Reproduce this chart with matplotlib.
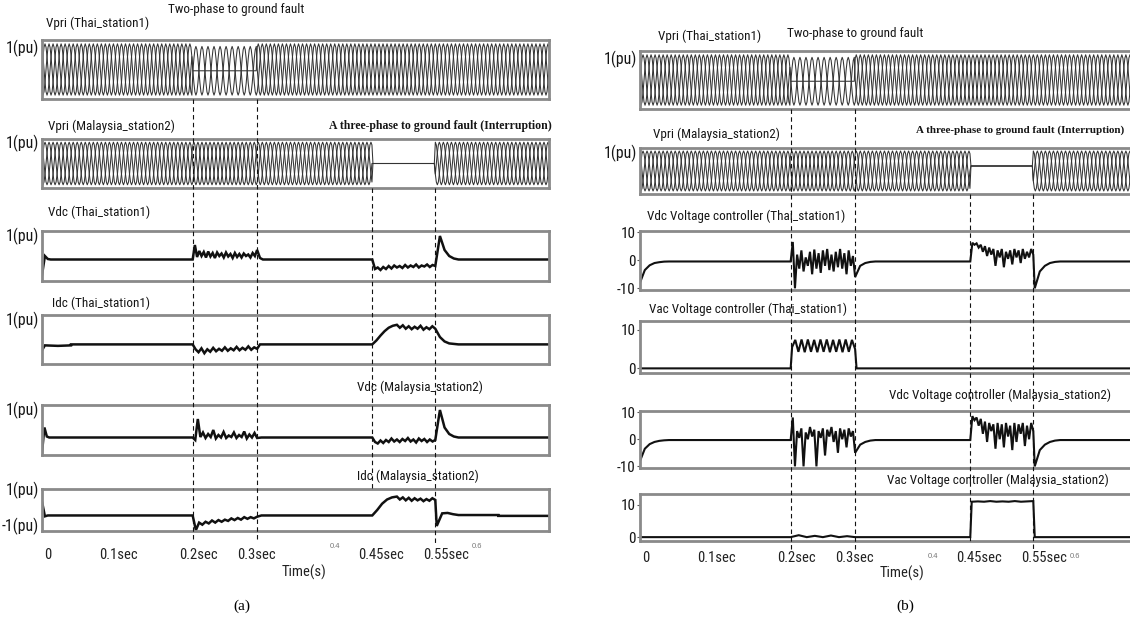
import os
import numpy as np
import matplotlib.pyplot as plt
from matplotlib import font_manager
from matplotlib.font_manager import FontProperties
from matplotlib.lines import Line2D

W, H = 1130, 619

# fault instants
fault_times = [0.208, 0.297, 0.456, 0.543]
t1, t2, t3, t4 = fault_times
t_end = 0.7

tick_pos = [0.008, 0.106, 0.216, 0.296, 0.468, 0.558]
tick_text = ['0', '0.1sec', '0.2sec', '0.3sec', '0.45sec', '0.55sec']
minor_pos = [0.404, 0.6]
minor_text = ['0.4', '0.6']

# one 60 Hz cycle of the primary voltage (12 samples)
cycle_shape = [0.0, 0.5, 0.87, 1.0, 0.87, 0.5, 0.0, -0.5, -0.87, -1.0, -0.87, -0.5]
cycle_period = 1 / 60

# primary voltages: segment starts, per-phase gains, per-phase shifts, flat offset
vpri_thai_starts = [0.0, t1, t2]
vpri_thai_gains = [[1, 1, 1], [0.95, 0.0, 0.95], [1, 1, 1]]
vpri_thai_shifts = [[0, 4, 8], [0, 4, 6], [0, 4, 8]]
vpri_thai_offset = [0, -0.05, 0]
vpri_mal_starts = [0.0, t3, t4]
vpri_mal_gains = [[1, 1, 1], [0, 0, 0], [1, 1, 1]]
vpri_mal_shifts = [[0, 4, 8], [0, 4, 8], [0, 4, 8]]
vpri_mal_offset_a = [0, 0, 0]
vpri_mal_offset_b = [0, 0.25, 0]

# (a) dc traces in box fraction, pieces of (t0, t1, values)
vdc_thai = [
    (0.0, 0.012, [0.12, 0.5, 0.44, 0.43]),
    (0.012, t1, [0.43, 0.43]),
    (t1, t2, [0.43, 0.72, 0.48, 0.6, 0.5, 0.58, 0.47, 0.59, 0.49, 0.56, 0.46, 0.57, 0.5, 0.55,
              0.47, 0.57, 0.49, 0.54, 0.46, 0.56, 0.48, 0.54, 0.47, 0.55, 0.5, 0.53, 0.47, 0.56, 0.5, 0.62]),
    (t2, 0.305, [0.62, 0.46, 0.43]),
    (0.305, t3, [0.43, 0.43]),
    (t3, t4, [0.43, 0.24, 0.27, 0.22, 0.28, 0.24, 0.3, 0.25, 0.31, 0.27, 0.3, 0.26, 0.32, 0.27,
              0.31, 0.28, 0.33, 0.27, 0.31, 0.29, 0.33, 0.28, 0.32, 0.3]),
    (t4, 0.575, [0.3, 0.9, 0.62, 0.5, 0.45, 0.43]),
    (0.575, t_end, [0.43, 0.43]),
]
idc_thai = [
    (0.0, 0.004, [0.28, 0.38]),
    (0.004, 0.04, [0.38, 0.37, 0.38]),
    (0.04, t1, [0.4, 0.4]),
    (t1, t2, [0.4, 0.3, 0.24, 0.32, 0.22, 0.3, 0.25, 0.33, 0.26, 0.31, 0.27, 0.34, 0.27, 0.32,
              0.28, 0.35, 0.28, 0.33, 0.29, 0.36, 0.29, 0.34, 0.31]),
    (t2, 0.301, [0.31, 0.4]),
    (0.301, t3, [0.4, 0.4]),
    (t3, 0.49, [0.4, 0.48, 0.58, 0.67, 0.74, 0.78, 0.8]),
    (0.49, t4, [0.8, 0.74, 0.79, 0.72, 0.77, 0.71, 0.76, 0.72, 0.78, 0.7, 0.75, 0.71, 0.77, 0.72]),
    (t4, 0.575, [0.72, 0.55, 0.46, 0.42, 0.41, 0.4]),
    (0.575, t_end, [0.4, 0.4]),
]
vdc_mal = [
    (0.0, 0.01, [0.05, 0.55, 0.37, 0.35]),
    (0.01, t1, [0.35, 0.35]),
    (t1, t2, [0.35, 0.3, 0.72, 0.36, 0.45, 0.34, 0.42, 0.36, 0.5, 0.33, 0.4, 0.35, 0.46, 0.34,
              0.39, 0.36, 0.45, 0.34, 0.4, 0.36, 0.47, 0.33, 0.41, 0.35, 0.44, 0.34]),
    (t2, 0.303, [0.34, 0.35]),
    (0.303, t3, [0.35, 0.35]),
    (t3, t4, [0.35, 0.26, 0.23, 0.29, 0.24, 0.3, 0.26, 0.33, 0.27, 0.31, 0.26, 0.32, 0.28, 0.34,
              0.27, 0.31, 0.25, 0.33, 0.28, 0.32, 0.26, 0.31, 0.27, 0.3]),
    (t4, 0.575, [0.3, 0.9, 0.55, 0.42, 0.37, 0.35]),
    (0.575, t_end, [0.35, 0.35]),
]
idc_mal = [
    (0.0, 0.008, [0.7, 0.35, 0.37]),
    (0.008, t1, [0.37, 0.37]),
    (t1, t2, [0.37, 0.02, 0.2, 0.15, 0.22, 0.18, 0.25, 0.2, 0.26, 0.22, 0.27, 0.24, 0.3, 0.26,
              0.31, 0.27, 0.33, 0.29, 0.33, 0.3, 0.34]),
    (t2, 0.303, [0.34, 0.37]),
    (0.303, t3, [0.37, 0.37]),
    (t3, 0.49, [0.37, 0.5, 0.65, 0.75, 0.8, 0.82]),
    (0.49, t4, [0.82, 0.75, 0.8, 0.73, 0.79, 0.72, 0.78, 0.73, 0.77, 0.71, 0.76, 0.72, 0.78, 0.74]),
    (t4, 0.545, [0.74, 0.12]),
    (0.545, 0.575, [0.12, 0.42, 0.43, 0.4, 0.38]),
    (0.575, 0.63, [0.38, 0.38]),
    (0.63, t_end, [0.36, 0.36]),
]

# (b) controller outputs
vdc_ctrl_thai = [
    (0.0, 0.0, [10, -8]),
    (0.0, 0.04, [-8, -3.5, -1.8, -1.0, -0.7, -0.5, -0.45]),
    (0.04, t1, [-0.45, -0.45]),
    (t1, t2, [-0.45, 6.5, -10, 2, -3, 3.5, -4, 1, -2, 3, -5, 3.8, -3, 2.5, -4.5, 3.5, -2, 4,
              -3.5, 2, -4, 3, -2.5, 4, -3, 2.5, -5, 3.5, -2, 1.5, -6]),
    (t2, 0.325, [-6, -2, -1, -0.6, -0.45]),
    (0.325, t3, [-0.45, -0.45]),
    (t3, t4, [-0.45, 6.2, 5.5, 6, 4.5, 5.5, 3, 5, 1.5, 4.5, 2, 4, -2, 3.5, 1, 4, -2.5, 3, 0.5,
              3.5, -1.5, 4, 1, 3.5, -1, 4, 0.5, 3, 1, 4, 2]),
    (t4, 0.545, [2, -10]),
    (0.545, 0.58, [-10, -4, -2, -1, -0.6, -0.45]),
    (0.58, t_end, [-0.45, -0.45]),
]
vac_ctrl_thai = [
    (0.0, t1, [0, 0]),
    (t1, 0.21, [0, 5.5]),
    (0.21, t2, [5.5, 7.4, 4.3, 7.5, 4.2, 7.5, 4.3, 7.4, 4.2, 7.5, 4.3, 7.5, 4.2, 7.4, 4.3,
                7.5, 4.2, 7.5, 4.3, 7.4, 5.0]),
    (t2, 0.299, [5.0, 0]),
    (0.299, t_end, [0, 0]),
]
vdc_ctrl_mal = [
    (0.0, 0.0, [10, -8]),
    (0.0, 0.04, [-8, -3.5, -1.8, -1.0, -0.6, -0.4, -0.3]),
    (0.04, t1, [-0.3, -0.3]),
    (t1, t2, [-0.3, 8, -10, 3, 0.5, 4, -10, 2.5, 0, 4.5, 1, 3.5, -10, 3, 0.5, 4, -6, 3.5, 1,
              4.5, -1, 3, -5, 4, 0, 3.5, -3, 4, 1, 3, -5]),
    (t2, 0.325, [-5, -2, -1, -0.5, -0.3]),
    (0.325, t3, [-0.3, -0.3]),
    (t3, t4, [-0.3, 8.5, 7, 8, 5, 7.5, 2, 6.5, -1, 6, 3, 5.5, -3.5, 6, 0, 5.5, -3, 6, 1, 5,
              -4, 6, -1, 5.5, 2, 6, -2.5, 5, 0, 6, 3]),
    (t4, 0.545, [3, -10]),
    (0.545, 0.58, [-10, -4, -2, -1, -0.5, -0.3]),
    (0.58, t_end, [-0.3, -0.3]),
]
vac_ctrl_mal = [
    (0.0, t1, [0, 0]),
    (t1, t2, [0, 0.6, 0, 0.4, 0, 0.5, 0, 0.3, 0]),
    (t2, t3, [0, 0]),
    (t3, 0.458, [0, 11]),
    (0.458, t4, [11, 11.1, 11, 11.2, 11, 11.1, 11, 11.2, 11, 11.1, 11.2]),
    (t4, 0.545, [11.2, 0]),
    (0.545, t_end, [0, 0]),
]


def trace(pieces):
    ts, ys = [], []
    for a, b, vals in pieces:
        ts.extend(np.linspace(a, b, len(vals)))
        ys.extend(vals)
    return np.array(ts), np.array(ys)


def three_phase(starts, gains, shifts, offsets):
    n_cyc = int(round(t_end / cycle_period)) + 1
    base = np.tile(cycle_shape, n_cyc)
    t = np.arange(base.size) * cycle_period / len(cycle_shape)
    seg = np.searchsorted(starts, t, side='right') - 1
    out = []
    for k in range(3):
        sh = np.array([s[k] for s in shifts])[seg]
        g = np.array([gg[k] for gg in gains])[seg]
        idx = (np.arange(base.size) + sh) % base.size
        out.append(base[idx] * g + np.array(offsets)[seg])
    return t, out


# narrow sans face for the labels (the original uses an Arial Narrow look)
def pick_narrow():
    files = [f.fname for f in font_manager.fontManager.ttflist]
    prefs = ['LiberationSansNarrow-Regular', 'RobotoCondensed-Regular', 'NotoSans-CondensedRegular',
             'NotoSans-Condensed.', 'OpenSans-CondensedRegular', 'OpenSans_Condensed-Regular',
             'DejaVuSansCondensed.']
    for p in prefs:
        for fn in files:
            if p in os.path.basename(fn):
                return fn
    for fn in files:
        b = os.path.basename(fn)
        if ('Condensed' in b or 'Narrow' in b) and not any(
                k in b for k in ('Bold', 'Italic', 'Oblique', 'Light', 'Thin', 'Black',
                                 'Medium', 'Semi', 'Extra', 'Mono', 'Serif')):
            return fn
    return None


NARROW = pick_narrow()
plt.rcParams['font.family'] = ['Liberation Sans', 'DejaVu Sans']

fig = plt.figure(figsize=(W / 100, H / 100), dpi=100)
renderer = fig.canvas.get_renderer()


def fprop(size):
    if NARROW:
        return FontProperties(fname=NARROW, size=size)
    return FontProperties(family='Liberation Sans', size=size)


SERIF_A = FontProperties(family='Liberation Serif', weight='bold', size=8.5)
SERIF_B = FontProperties(family='Liberation Serif', weight='bold', size=7.9)

# scale the label size so a known label has the width it has in the original
_probe = fig.text(0, 0, 'Vdc Voltage controller (Malaysia_station2)', fontproperties=fprop(10))
SIZE = 10 * 219 / _probe.get_window_extent(renderer).width
_probe.remove()

BOX_W = 507


def make_axes(x0, top, bottom):
    ax = fig.add_axes([x0 / W, 1 - bottom / H, BOX_W / W, (bottom - top) / H])
    ax.set_xlim(0, t_end)
    for s in ax.spines.values():
        s.set_color('#8a8a8a')
        s.set_linewidth(2)
    ax.set_xticks([])
    ax.set_yticks([])
    return ax


def label(x, y, s, fp=None):
    fig.text(x / W, 1 - y / H, s, fontproperties=fp or fprop(SIZE), color='#151515', va='center')


def pu_label(ax, s, yfrac):
    ax.text(-0.006, yfrac, s, transform=ax.transAxes, ha='right', va='center',
            fontproperties=fprop(SIZE * 1.2), color='#151515')


def draw_vpri(ax, data):
    t, phases = data
    for p in phases:
        ax.plot(t, p, color='#333333', lw=0.75)
    ax.set_ylim(-1.15, 1.15)


def draw_trace(ax, pieces, lw=1.8):
    t, y = trace(pieces)
    ax.plot(t, y, color='#111111', lw=lw, solid_joinstyle='miter')


def time_axis(ax, pad, time_off):
    ax.set_xticks(tick_pos, tick_text)
    ax.tick_params(axis='x', length=0, pad=pad, labelcolor='#222222')
    for lab in ax.get_xticklabels():
        lab.set_fontproperties(fprop(SIZE * 1.12))
    for p, s in zip(minor_pos, minor_text):
        ax.annotate(s, xy=(p, 0), xycoords=('data', 'axes fraction'), xytext=(0, -15),
                    textcoords='offset pixels', fontsize=5.5, color='#777777',
                    ha='center', va='center')
    ax.annotate('Time(s)', xy=(0.362, 0), xycoords=('data', 'axes fraction'),
                xytext=(0, time_off), textcoords='offset pixels',
                fontproperties=fprop(SIZE * 1.12), color='#222222', ha='center', va='center')


def dashed(ax_ref, t, y0, y1):
    xf = fig.transFigure.inverted().transform(ax_ref.transData.transform((t, 0)))[0]
    fig.add_artist(Line2D([xf, xf], [1 - y0 / H, 1 - y1 / H], transform=fig.transFigure,
                          color='#111111', lw=0.8, ls=(0, (4, 3))))


# ---------------- panel (a) ----------------
XA = 42
a_boxes = [(40, 99), (139, 188), (231, 281), (315, 364), (405, 455), (489, 531)]
axa = [make_axes(XA, top, bot) for top, bot in a_boxes]

draw_vpri(axa[0], three_phase(vpri_thai_starts, vpri_thai_gains, vpri_thai_shifts, vpri_thai_offset))
draw_vpri(axa[1], three_phase(vpri_mal_starts, vpri_mal_gains, vpri_mal_shifts, vpri_mal_offset_a))
for ax, pieces in zip(axa[2:], [vdc_thai, idc_thai, vdc_mal, idc_mal]):
    draw_trace(ax, pieces)
    ax.set_ylim(0, 1)
pu_label(axa[0], '1(pu)', 0.86)
pu_label(axa[1], '1(pu)', 0.92)
for ax in axa[2:5]:
    pu_label(ax, '1(pu)', 0.9)
pu_label(axa[5], '1(pu)', 0.97)
pu_label(axa[5], '-1(pu)', 0.1)
time_axis(axa[5], 12, -41)

label(168, 10, 'Two-phase to ground fault')
label(46, 23, 'Vpri (Thai_station1)')
label(48, 126, 'Vpri (Malaysia_station2)')
label(329, 126, 'A three-phase to ground fault (Interruption)', SERIF_A)
label(48, 212, 'Vdc (Thai_station1)')
label(52, 303, 'Idc (Thai_station1)')
label(357, 387, 'Vdc (Malaysia_station2)')
label(357, 476, 'Idc (Malaysia_station2)')
fig.text(242 / W, 1 - 606 / H, '(a)', fontsize=11, family='Liberation Serif',
         ha='center', va='center')

for t in fault_times[:2]:
    dashed(axa[0], t, 99, 540)
dashed(axa[0], t3, 188, 489)
dashed(axa[0], t4, 188, 545)

# ---------------- panel (b) ----------------
XB = 640
b_boxes = [(51, 109), (148, 194), (231, 290), (321, 373), (411, 468), (494, 541)]
axb = [make_axes(XB, top, bot) for top, bot in b_boxes]

draw_vpri(axb[0], three_phase(vpri_thai_starts, vpri_thai_gains, vpri_thai_shifts, vpri_thai_offset))
draw_vpri(axb[1], three_phase(vpri_mal_starts, vpri_mal_gains, vpri_mal_shifts, vpri_mal_offset_b))
pu_label(axb[0], '1(pu)', 0.86)
pu_label(axb[1], '1(pu)', 0.88)

for ax, pieces, lim, ticks in [
        (axb[2], vdc_ctrl_thai, (-10.6, 10.4), [-10, 0, 10]),
        (axb[3], vac_ctrl_thai, (-1.2, 12.3), [0, 10]),
        (axb[4], vdc_ctrl_mal, (-10.6, 10.4), [-10, 0, 10]),
        (axb[5], vac_ctrl_mal, (-1.2, 13.4), [0, 10])]:
    draw_trace(ax, pieces, lw=1.5)
    ax.set_ylim(*lim)
    ax.set_yticks(ticks, [str(v) for v in ticks])
    ax.tick_params(axis='y', length=2, pad=1, labelcolor='#151515', color='#555555')
    for lab in ax.get_yticklabels():
        lab.set_fontproperties(fprop(SIZE * 1.15))
time_axis(axb[5], 7, -32)

label(658, 36, 'Vpri (Thai_station1)')
label(787, 33, 'Two-phase to ground fault')
label(653, 134, 'Vpri (Malaysia_station2)')
label(916, 130, 'A three-phase to ground fault (Interruption)', SERIF_B)
label(647, 216, 'Vdc Voltage controller (Thai_station1)')
label(649, 309, 'Vac Voltage controller (Thai_station1)')
label(889, 395, 'Vdc Voltage controller (Malaysia_station2)')
label(887, 480, 'Vac Voltage controller (Malaysia_station2)')
fig.text(905 / W, 1 - 606 / H, '(b)', fontsize=11, family='Liberation Serif',
         ha='center', va='center')

for t in fault_times[:2]:
    dashed(axb[0], t, 109, 550)
dashed(axb[0], t3, 194, 541)
dashed(axb[0], t4, 194, 550)

fig.savefig('out.png', dpi=100)
